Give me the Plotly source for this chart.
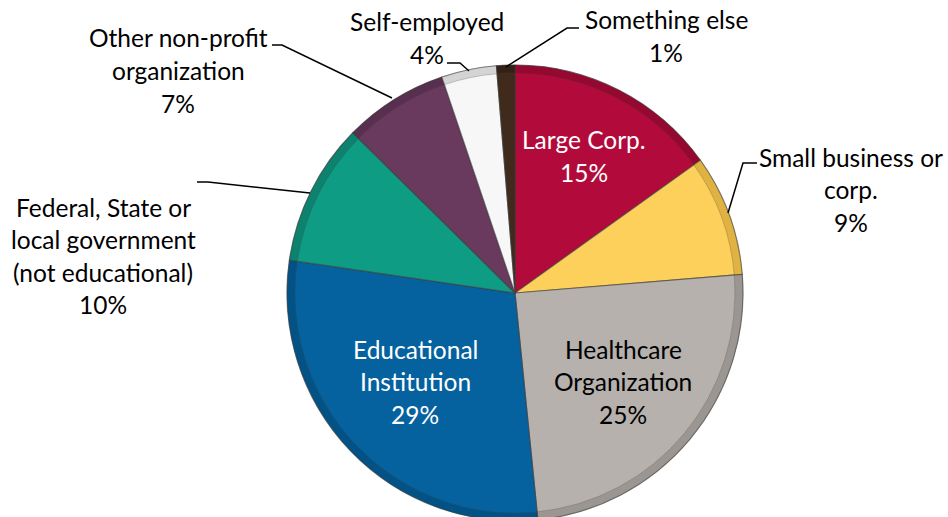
import plotly.graph_objects as go

categories = ["Large Corp.", "Small business or corp.", "Healthcare Organization",
              "Educational Institution", "Federal, State or local government (not educational)",
              "Other non-profit organization", "Self-employed", "Something else"]
values = [15.1, 8.6, 24.7, 28.9, 10.1, 7.4, 3.9, 1.3]
colors = ["#B20B3B", "#FCD05A", "#B6B1AC", "#05629F", "#0F9C85", "#6A395E", "#F7F7F7", "#3F2A1C"]
rim_colors = ["#7E0628", "#C99A2E", "#85807B", "#034672", "#0A6E5E", "#4A2742", "#B8B8B8", "#2A1B11"]

# label lines per category (text shown on chart)
label_lines = [
    ["Large Corp."],
    ["Small business or", "corp."],
    ["Healthcare", "Organization"],
    ["Educational", "Institution"],
    ["Federal, State or", "local government", "(not educational)"],
    ["Other non-profit", "organization"],
    ["Self-employed"],
    ["Something else"],
]
label_colors = ["white", "black", "black", "white", "black", "black", "black", "black"]
# label anchor (center x, first line y) in pixels
label_pos = [(584, 140), (851, 157), (623, 349), (415, 349), (103, 207), (178, 38), (427, 22), (666, 20)]
leaders = [
    None,
    [(757, 163), (743, 163), (728, 213)],
    None,
    None,
    [(197, 182), (208, 182), (310, 193)],
    [(272, 45), (282, 45), (392, 98)],
    [(447, 63), (460, 63), (469, 71)],
    [(579, 28), (567, 28), (506, 67)],
]

W, H = 948, 530
LINE = 32.5
FONT = "Lato"
FS = 24.5

def px(x):
    return x / W

def py(y):
    return 1 - y / H

cx, cy, r = 515, 293, 228
dom = dict(x=[px(cx - r), px(cx + r)], y=[py(cy + r), py(cy - r)])

fig = go.Figure()
fig.add_trace(go.Pie(
    labels=categories,
    values=values,
    sort=False,
    direction="clockwise",
    rotation=0,
    marker=dict(colors=colors, line=dict(color="rgba(60,60,60,0.6)", width=1.2)),
    textinfo="none",
    hoverinfo="label+percent",
    showlegend=False,
    domain=dom,
))
fig.add_trace(go.Pie(
    labels=categories,
    values=values,
    sort=False,
    direction="clockwise",
    rotation=0,
    hole=0.965,
    marker=dict(colors=rim_colors, line=dict(color="rgba(60,60,60,0.5)", width=1)),
    textinfo="none",
    hoverinfo="skip",
    showlegend=False,
    opacity=0.55,
    domain=dom,
))

annotations = []
total = sum(values)
for lines, col, (x, y), v in zip(label_lines, label_colors, label_pos, values):
    all_lines = lines + [f"{round(100 * v / total)}%"]
    for i, t in enumerate(all_lines):
        annotations.append(dict(
            x=px(x), y=py(y + i * LINE), xref="paper", yref="paper",
            text=t, showarrow=False, xanchor="center", yanchor="middle",
            font=dict(family=FONT, size=FS, color=col),
        ))

shapes = []
for pts in leaders:
    if pts:
        path = "M " + " L ".join(f"{px(a)},{py(b)}" for a, b in pts)
        shapes.append(dict(type="path", path=path, xref="paper", yref="paper",
                           line=dict(color="black", width=1.5)))

fig.update_layout(
    width=W, height=H,
    margin=dict(l=0, r=0, t=0, b=0),
    paper_bgcolor="white",
    plot_bgcolor="white",
    annotations=annotations,
    shapes=shapes,
)

fig.write_html("out.html", config={"displayModeBar": False},
               post_script="document.body.style.margin='0';document.body.style.overflow='hidden';")
